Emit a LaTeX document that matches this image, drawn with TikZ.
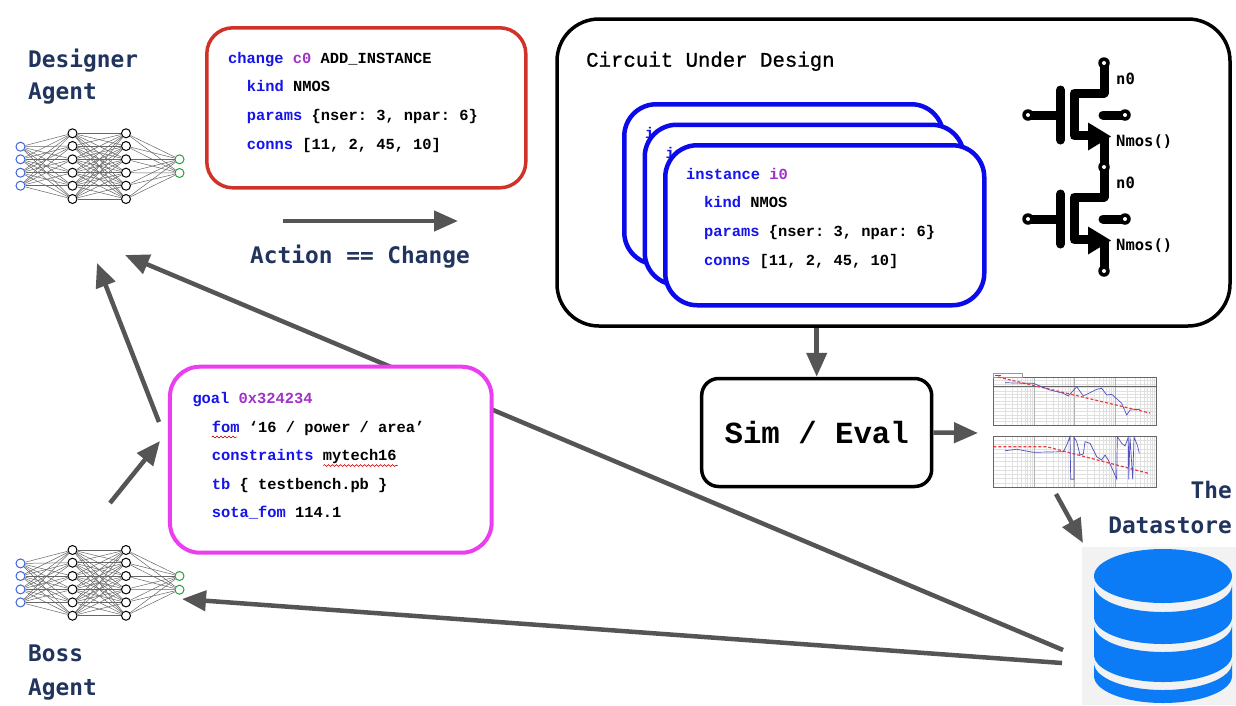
\documentclass[tikz,border=0pt]{standalone}
\usepackage{fontspec}
\setmonofont{Liberation Mono}
\newfontfamily\headfont{DejaVu Sans Mono}
\newfontfamily\cudfont{Liberation Mono}[FakeBold=0.8]
\usetikzlibrary{arrows.meta,decorations.pathmorphing}

\definecolor{kwblue}{RGB}{20,20,235}
\definecolor{idpurple}{RGB}{160,50,200}
\definecolor{navy}{RGB}{33,52,94}
\definecolor{changered}{RGB}{208,50,40}
\definecolor{goalpink}{RGB}{234,62,240}
\definecolor{instblue}{RGB}{10,10,235}
\definecolor{flowgray}{RGB}{85,85,85}
\definecolor{dbblue}{RGB}{12,124,246}
\definecolor{inblue}{RGB}{60,100,220}
\definecolor{outgreen}{RGB}{40,160,60}
\definecolor{plotblue}{RGB}{80,80,190}
\definecolor{plotred}{RGB}{235,60,60}

\newcommand{\kw}[1]{\textcolor{kwblue}{#1}}
\newcommand{\idn}[1]{\textcolor{idpurple}{#1}}

\tikzset{
  codetxt/.style={font=\ttfamily\bfseries\fontsize{15.4}{18}\selectfont, anchor=base west, inner sep=0pt, text=black},
  heading/.style={font=\headfont\bfseries\fontsize{22.8}{26}\selectfont, text=navy, inner sep=0pt},
  flow/.style={draw=flowgray, line width=4.5pt, -{Triangle[length=24pt,width=20pt]}},
  panel/.style={draw, fill=white, inner sep=0pt},
  neuron/.style={circle, draw, line width=1pt, minimum size=9pt, inner sep=0pt, fill=white},
  synapse/.style={draw=black!60, line width=0.5pt},
  wire/.style={line width=9pt, line cap=round, line join=round},
  terminal/.style={circle, fill=black, minimum size=11.5pt, inner sep=0pt,
    path picture={\fill[white] (path picture bounding box.center) circle (2pt);}},
  squiggle/.style={draw=red!80!black, line width=0.6pt, decorate,
    decoration={snake, amplitude=0.9pt, segment length=4pt}},
  gridline/.style={draw=black!12, line width=0.3pt},
  ttlabel/.style={font=\headfont\bfseries\fontsize{15.5}{18}\selectfont, anchor=base west, inner sep=0pt},
}

% a small fully connected network: #1 name prefix, #2 vertical offset
\newcommand{\agentnet}[2]{%
  \foreach \k/\yy in {1/146.7,2/159.3,3/172.7,4/185.7}
    \node[neuron, draw=inblue] (#1i\k) at (20.5,{\yy+#2}) {};
  \foreach \k/\yy in {1/133.3,2/146,3/159.3,4/172.7,5/185.7,6/199} {
    \node[neuron] (#1h\k) at (72.5,{\yy+#2}) {};
    \node[neuron] (#1g\k) at (126,{\yy+#2}) {};
  }
  \foreach \k/\yy in {1/159.3,2/173}
    \node[neuron, draw=outgreen] (#1o\k) at (179.5,{\yy+#2}) {};
  \foreach \a in {1,...,4} \foreach \b in {1,...,6} \draw[synapse] (#1i\a) -- (#1h\b);
  \foreach \a in {1,...,6} \foreach \b in {1,...,6} \draw[synapse] (#1h\a) -- (#1g\b);
  \foreach \a in {1,...,6} \foreach \b in {1,2} \draw[synapse] (#1g\a) -- (#1o\b);
}

% one NMOS symbol: #1 vertical offset
\newcommand{\nmos}[1]{%
  \begin{scope}[shift={(0,#1)}]
    \draw[wire] (1104,63) -- (1104,93) -- (1074,93) -- (1074,135.7) -- (1090,135.7);
    \fill (1088,122.5) -- (1111,136.5) -- (1088,150.5) -- cycle;
    \draw[wire, line cap=butt] (1104,136) -- (1104,167);
    \draw[wire] (1060.5,90) -- (1060.5,140);
    \draw[wire, line cap=butt] (1028,115) -- (1060,115);
    \draw[wire] (1103,115) -- (1125,115);
    \node[terminal] at (1104,63) {};
    \node[terminal] at (1028,115) {};
    \node[terminal] at (1125,115) {};
    \node[ttlabel] at (1116,84) {n0};
    \node[ttlabel] at (1116,146) {Nmos()};
  \end{scope}
}

% an instance card: #1 name, #2/#3 top-left corner
\newcommand{\instcard}[3]{%
  \node[panel, draw=instblue, line width=4.5pt, rounded corners=32pt,
        minimum width=319pt, minimum height=160pt, anchor=north west] (#1) at (#2,#3) {};
  \node[codetxt] at ({#2+23},{#3+36.3}) {\kw{instance} \idn{i0}};
}
% the front card also shows its fields
\newcommand{\cardfields}[2]{%
  \node[codetxt] at ({#1+41},{#2+64.3}) {\kw{kind} NMOS};
  \node[codetxt] at ({#1+41},{#2+93.7}) {\kw{params} \{nser: 3, npar: 6\}};
  \node[codetxt] at ({#1+41},{#2+122}) {\kw{conns} [11, 2, 45, 10]};
}

\begin{document}
\begin{tikzpicture}[x=1pt, y=-1pt]
\useasboundingbox (0,0) rectangle (1236,705);
\fill[white] (0,0) rectangle (1236,705);

% endpoints of the long feedback arrows
\coordinate (dsA) at (1063,650);
\coordinate (dsB) at (1062,663);
\coordinate (desIn) at (125,255);
\coordinate (bossIn) at (182,599);
\draw[flow] (dsA) -- (desIn);
\draw[flow] (dsB) -- (bossIn);

% agents
\agentnet{dn}{0}
\agentnet{bn}{416.7}
\node[heading, anchor=base west] (desA) at (28,67.5) {Designer};
\node[heading, anchor=base west] (desB) at (28,99.5) {Agent};
\node[heading, anchor=base west] (bossA) at (28,661.7) {Boss};
\node[heading, anchor=base west] (bossB) at (28,695) {Agent};

% the change record
\node[panel, draw=changered, line width=3.5pt, rounded corners=26pt,
      minimum width=319pt, minimum height=160pt] (chg) at (366.3,107.8) {};
\node[codetxt] at (228,63.3) {\kw{change} \idn{c0} ADD\_INSTANCE};
\node[codetxt] at (246.7,91.7) {\kw{kind} NMOS};
\node[codetxt] at (246.7,120.7) {\kw{params} \{nser: 3, npar: 6\}};
\node[codetxt] at (246.7,149) {\kw{conns} [11, 2, 45, 10]};

\coordinate (actS) at (283,221);
\coordinate (actE) at (458,221);
\draw[flow] (actS) -- (actE);
\node[heading, anchor=base west] (act) at (250,263.3) {Action == Change};

% circuit under design
\node[panel, line width=3.5pt, rounded corners=42pt,
      minimum width=673pt, minimum height=307pt] (cud) at (893.5,172.5) {};
\node[font=\cudfont\fontsize{20.7}{24}\selectfont, anchor=base west, inner sep=0pt]
  (cudT) at (586,66.7) {Circuit Under Design};
\instcard{card1}{622}{102}
\instcard{card2}{642.5}{122.5}
\instcard{card3}{663}{143}
\cardfields{663}{143}
\nmos{0}
\nmos{104}
\node[terminal] at (1104,271) {};

% simulation
\node[panel, line width=3.5pt, rounded corners=17pt, minimum width=230pt, minimum height=108pt,
      font=\ttfamily\bfseries\fontsize{30.7}{34}\selectfont, text height=21.6pt, text depth=0pt]
  (sim) at (816.7,432.5) {Sim / Eval};
\draw[flow] (sim.north |- cud.south) -- (sim.north);
\coordinate (plotIn) at (978,433);
\draw[flow] (sim.east) -- (plotIn);

% frequency response plots
\foreach \ya/\yb/\n in {377/425/14, 436/487/12} {
  \foreach \d in {993,1033.75,1074.5,1115.25} {
    \foreach \m in {2,...,9}
      \draw[gridline] ({\d+40.75*log10(\m)},\ya) -- ({\d+40.75*log10(\m)},\yb);
  }
  \foreach \i in {1,...,\n}
    \draw[gridline] (993,{\ya+\i*(\yb-\ya)/\n}) -- (1156,{\ya+\i*(\yb-\ya)/\n});
  \foreach \d in {1033.75,1074.5,1115.25}
    \draw[draw=black!30, line width=0.3pt] (\d,\ya) -- (\d,\yb);
  \draw[black!60, line width=0.4pt] (993,\ya) rectangle (1156,\yb);
}
\draw[black!60, line width=0.7pt] (993,386) -- (1156,386);
\draw[black!40, line width=0.3pt, fill=white] (993,373) rectangle (1022,377);
\draw[plotblue, line width=0.6pt] (995,375) -- (1001,375);
\draw[plotred, line width=1.2pt, dash pattern=on 3pt off 2pt] (998,377) -- (1150,413);
\draw[plotblue, line width=0.7pt] (1005,382.7) -- (1025,383.3) -- (1033.3,383.3) -- (1050,390)
  -- (1063.3,393.3) -- (1068.3,396) -- (1076.7,386.7) -- (1083.3,396) -- (1096.7,389.3)
  -- (1101.7,388.3) -- (1106.7,395) -- (1111.7,394.3) -- (1121.7,403.3) -- (1126.7,415)
  -- (1130,410) -- (1140,409.3);
\draw[plotred, line width=1.2pt, dash pattern=on 3pt off 2pt] (993.3,446.7) -- (1046.7,446.7) -- (1148.3,473.3);
\draw[plotblue, line width=0.7pt] (1005,450.7) -- (1016.7,449.3) -- (1033.3,452.3) -- (1063.3,451.7)
  -- (1066.7,445) -- (1070,436.7) -- (1070.7,479.3) -- (1074,479.3) -- (1074,437.3)
  -- (1076.7,441.7) -- (1080,455) -- (1083.3,454) -- (1085,441.7) -- (1090,443.3)
  -- (1096.7,456.7) -- (1101.7,460) -- (1105,455) -- (1108.3,460) -- (1116.7,479)
  -- (1117.3,436.7) -- (1121.7,443.3) -- (1125,446) -- (1128.3,437.3) -- (1128.7,479.3)
  -- (1130,437.3) -- (1132.7,479.3) -- (1134,437.3) -- (1137.3,445) -- (1139.3,453.3);

% the datastore
\coordinate (plotOut) at (1056,494);
\coordinate (dsIn) at (1083,543);
\draw[flow] (plotOut) -- (dsIn);
\node[heading, anchor=base east] (dsT1) at (1232,498.3) {The};
\node[heading, anchor=base east] (dsT2) at (1232,533.3) {Datastore};
\fill[black!5] (1082,547) rectangle (1236,705);
\fill[dbblue] (1163,576) ellipse [x radius=69pt, y radius=27pt];
\foreach \ya/\yb in {585/617, 625/655, 663/676}
  \fill[dbblue] (1094,\ya) arc[start angle=180, end angle=360, x radius=69pt, y radius=27pt]
    -- (1232,\yb) arc[start angle=0, end angle=-180, x radius=69pt, y radius=27pt] -- cycle;

% the goal record
\node[panel, draw=goalpink, line width=4pt, rounded corners=30pt,
      minimum width=321.7pt, minimum height=186pt] (goal) at (330.8,459.7) {};
\node[codetxt] at (192.3,403.3) {\kw{goal} \idn{0x324234}};
\node[codetxt] at (211.7,432.3) {\kw{fom} ‘16 / power / area’};
\node[codetxt] at (211.7,460.7) {\kw{constraints} mytech16};
\node[codetxt] at (211.7,489.3) {\kw{tb} \{ testbench.pb \}};
\node[codetxt] at (211.7,517.3) {\kw{sota\_fom} 114.1};
\draw[squiggle] (211.7,437) -- (236.7,437);
\draw[squiggle] (323.3,465.5) -- (397.7,465.5);

% goal hand-off arrows
\coordinate (bossOut) at (110,503);
\coordinate (goalIn) at (160,441);
\coordinate (goalOut) at (159,422);
\coordinate (desIn2) at (97,263);
\draw[flow] (bossOut) -- (goalIn);
\draw[flow] (goalOut) -- (desIn2);
\end{tikzpicture}
\end{document}
